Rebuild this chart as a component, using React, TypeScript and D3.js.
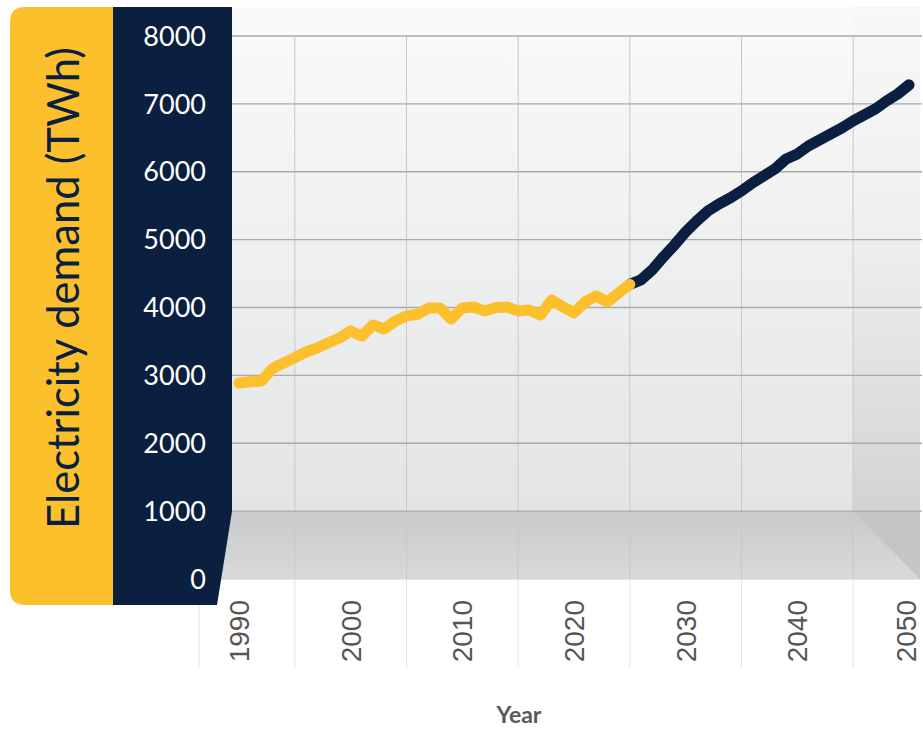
import React from "react";
import * as d3 from "d3";

const histYears = [1990,1991,1992,1993,1994,1995,1996,1997,1998,1999,2000,2001,2002,2003,2004,2005,2006,2007,2008,2009,2010,2011,2012,2013,2014,2015,2016,2017,2018,2019,2020,2021,2022,2023,2024,2025];
const histDemand = [2888,2905,2918,3100,3183,3260,3345,3404,3480,3551,3655,3580,3743,3684,3800,3876,3900,3994,3994,3831,3994,4008,3950,4000,4008,3950,3964,3890,4111,4008,3920,4082,4170,4082,4215,4340];
const projYears = [2025,2026,2027,2028,2029,2030,2031,2032,2033,2034,2035,2036,2037,2038,2039,2040,2041,2042,2043,2044,2045,2046,2047,2048,2049,2050];
const projDemand = [4340,4406,4553,4745,4922,5113,5276,5423,5526,5615,5718,5836,5939,6042,6189,6263,6381,6469,6558,6646,6749,6838,6926,7044,7147,7280];
const yTicks = [0,1000,2000,3000,4000,5000,6000,7000,8000];
const xTicks = [1990,2000,2010,2020,2030,2040,2050];
const xGrid = [1995,2005,2015,2025,2035,2045];

const W = 923, H = 729;
const YELLOW = "#FBC02C";
const NAVY = "#0B1F40";

export default function App() {
  const x = d3.scaleLinear().domain([1990, 2050]).range([239, 909]);
  const y = d3.scaleLinear().domain([0, 8000]).range([579, 36]);
  const line = d3.line<number>().curve(d3.curveLinear);
  const histPts: [number, number][] = histYears.map((yr, i) => [x(yr), y(histDemand[i])]);
  const projPts: [number, number][] = projYears.map((yr, i) => [x(yr), y(projDemand[i])]);

  const plotL = 232, plotR = 920, plotT = 7;
  const wallBottom = y(1000);
  const floorFront = y(0);
  const sideX = x(2045);

  return (
    <svg width={W} height={H} style={{ position: "absolute", left: 0, top: 0, background: "#fff" }}>
      <defs>
        <linearGradient id="wall" x1="0" y1="0" x2="0" y2="1">
          <stop offset="0" stopColor="#fafafa" />
          <stop offset="1" stopColor="#e3e4e6" />
        </linearGradient>
        <linearGradient id="floor" x1="0" y1="0" x2="0" y2="1">
          <stop offset="0" stopColor="#c9cacc" />
          <stop offset="1" stopColor="#d8d9db" />
        </linearGradient>
        <linearGradient id="side" x1="0" y1="0" x2="0" y2="1">
          <stop offset="0" stopColor="#f8f8f8" />
          <stop offset="0.45" stopColor="#efeff0" />
          <stop offset="1" stopColor="#d2d3d5" />
        </linearGradient>
      </defs>

      {/* back wall */}
      <rect x={plotL} y={plotT} width={plotR - plotL} height={wallBottom - plotT} fill="url(#wall)" />
      {/* side wall */}
      <rect x={sideX} y={plotT} width={plotR - sideX} height={wallBottom - plotT} fill="url(#side)" />
      {/* floor */}
      <rect x={plotL - 20} y={wallBottom} width={plotR - plotL + 20} height={floorFront - wallBottom} fill="url(#floor)" />
      <path d={`M${sideX},${wallBottom}L${plotR},${wallBottom}L${plotR},${floorFront}Z`} fill="#c4c5c7" />
      <line x1={plotL - 20} x2={plotR} y1={floorFront} y2={floorFront} stroke="#d0d0d0" strokeWidth={1} />

      {/* vertical grid */}
      {xGrid.map((g) => (
        <g key={g}>
          <line x1={x(g)} x2={x(g)} y1={y(8000)} y2={floorFront} stroke="#c8c8c8" strokeWidth={1} />
          <line x1={x(g)} x2={x(g)} y1={floorFront} y2={668} stroke="#e4e4e4" strokeWidth={1} />
        </g>
      ))}
      <line x1={x(1990) - 40} x2={x(1990) - 40} y1={floorFront} y2={668} stroke="#e4e4e4" strokeWidth={1} />
      {/* horizontal grid */}
      {yTicks.filter((t) => t >= 1000).map((t) => (
        <line key={t} x1={plotL} x2={plotR + 2} y1={y(t)} y2={y(t)} stroke="#a9aaac" strokeWidth={1.3} />
      ))}

      {/* data lines */}
      <path d={line(projPts) || ""} fill="none" stroke={NAVY} strokeWidth={11} strokeLinecap="round" strokeLinejoin="round" />
      <path d={line(histPts) || ""} fill="none" stroke={YELLOW} strokeWidth={11} strokeLinecap="round" strokeLinejoin="round" />

      {/* yellow panel */}
      <path d={`M113,7 L25,7 Q10,7 10,22 L10,590 Q10,605 25,605 L113,605 Z`} fill={YELLOW} />
      {/* navy panel */}
      <path d={`M113,7 L232,7 L232,${wallBottom} L217,605 L113,605 Z`} fill={NAVY} />

      <text
        transform={`translate(79,${288}) rotate(-90)`}
        textAnchor="middle"
        fontFamily="Lato, 'Open Sans', sans-serif"
        fontSize={43.5}
        fill={NAVY}
      >
        Electricity demand (TWh)
      </text>

      {yTicks.map((t) => (
        <text key={t} x={206} y={y(t)} dy="0.36em" textAnchor="end" fontFamily="Lato, sans-serif" fontSize={27} fill="#fff">
          {t}
        </text>
      ))}

      {xTicks.map((t) => (
        <text
          key={t}
          transform={`translate(${x(t) - (t === 2050 ? 3 : 0)},600) rotate(-90)`}
          dy="0.36em"
          textAnchor="end"
          fontFamily="'Liberation Sans', Arial, sans-serif"
          fontSize={28}
          fill="#555"
        >
          {t}
        </text>
      ))}

      <text x={519} y={723} textAnchor="middle" fontFamily="Lato, sans-serif" fontWeight="bold" fontSize={23} fill="#5a5a5a">
        Year
      </text>
    </svg>
  );
}
